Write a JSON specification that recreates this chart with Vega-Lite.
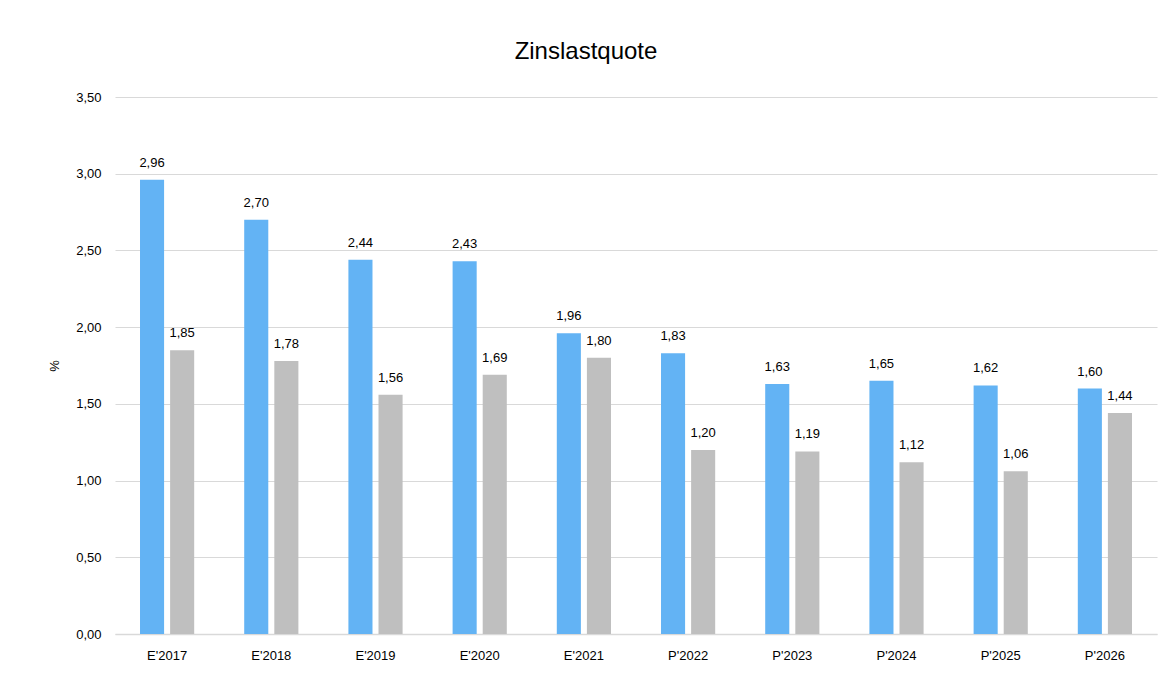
{
  "$schema": "https://vega.github.io/schema/vega-lite/v6.json",
  "autosize": {"type": "none"},
  "width": 1042,
  "height": 537,
  "padding": {"left": 115, "top": 97, "right": 16, "bottom": 39},
  "background": "white",
  "config": {
    "locale": {"number": {"decimal": ",", "thousands": ".", "grouping": [3], "currency": ["", " €"]}},
    "font": "Liberation Sans",
    "view": {"stroke": null}
  },
  "title": {
    "text": "Zinslastquote",
    "fontSize": 24,
    "fontWeight": "normal",
    "font": "Liberation Sans",
    "color": "#000000",
    "anchor": "middle",
    "dx": -50,
    "offset": 27
  },
  "data": {
    "values": [
      {"jahr": "E'2017", "reihe": "Reihe 1", "wert": 2.96},
      {"jahr": "E'2017", "reihe": "Reihe 2", "wert": 1.85},
      {"jahr": "E'2018", "reihe": "Reihe 1", "wert": 2.70},
      {"jahr": "E'2018", "reihe": "Reihe 2", "wert": 1.78},
      {"jahr": "E'2019", "reihe": "Reihe 1", "wert": 2.44},
      {"jahr": "E'2019", "reihe": "Reihe 2", "wert": 1.56},
      {"jahr": "E'2020", "reihe": "Reihe 1", "wert": 2.43},
      {"jahr": "E'2020", "reihe": "Reihe 2", "wert": 1.69},
      {"jahr": "E'2021", "reihe": "Reihe 1", "wert": 1.96},
      {"jahr": "E'2021", "reihe": "Reihe 2", "wert": 1.80},
      {"jahr": "P'2022", "reihe": "Reihe 1", "wert": 1.83},
      {"jahr": "P'2022", "reihe": "Reihe 2", "wert": 1.20},
      {"jahr": "P'2023", "reihe": "Reihe 1", "wert": 1.63},
      {"jahr": "P'2023", "reihe": "Reihe 2", "wert": 1.19},
      {"jahr": "P'2024", "reihe": "Reihe 1", "wert": 1.65},
      {"jahr": "P'2024", "reihe": "Reihe 2", "wert": 1.12},
      {"jahr": "P'2025", "reihe": "Reihe 1", "wert": 1.62},
      {"jahr": "P'2025", "reihe": "Reihe 2", "wert": 1.06},
      {"jahr": "P'2026", "reihe": "Reihe 1", "wert": 1.60},
      {"jahr": "P'2026", "reihe": "Reihe 2", "wert": 1.44}
    ]
  },
  "encoding": {
    "x": {
      "field": "jahr",
      "type": "nominal",
      "sort": null,
      "scale": {"paddingInner": 0.48, "paddingOuter": 0.24},
      "axis": {
        "title": null,
        "labelAngle": 0,
        "labelFontSize": 13,
        "labelColor": "#000000",
        "labelPadding": 15,
        "ticks": false,
        "domainColor": "#d9d9d9",
        "domainWidth": 1.5
      }
    },
    "xOffset": {"field": "reihe", "type": "nominal", "scale": {"paddingInner": 0.2, "paddingOuter": 0}},
    "y": {
      "field": "wert",
      "type": "quantitative",
      "scale": {"domain": [0, 3.5], "nice": false},
      "axis": {
        "title": "%",
        "titleFontWeight": "normal",
        "titleFontSize": 13,
        "titleColor": "#000000",
        "titlePadding": 14,
        "values": [0, 0.5, 1, 1.5, 2, 2.5, 3, 3.5],
        "format": ".2f",
        "labelFontSize": 13,
        "labelColor": "#000000",
        "labelPadding": 14,
        "ticks": false,
        "domain": false,
        "gridColor": "#d9d9d9",
        "gridWidth": 1.2
      }
    },
    "color": {
      "field": "reihe",
      "type": "nominal",
      "scale": {"domain": ["Reihe 1", "Reihe 2"], "range": ["#63b3f4", "#bfbfbf"]},
      "legend": null
    }
  },
  "layer": [
    {"mark": {"type": "bar"}},
    {
      "mark": {"type": "text", "baseline": "bottom", "dy": -10, "fontSize": 13, "color": "#000000"},
      "encoding": {
        "text": {"field": "wert", "type": "quantitative", "format": ".2f"},
        "color": {"value": "#000000"}
      }
    }
  ]
}
